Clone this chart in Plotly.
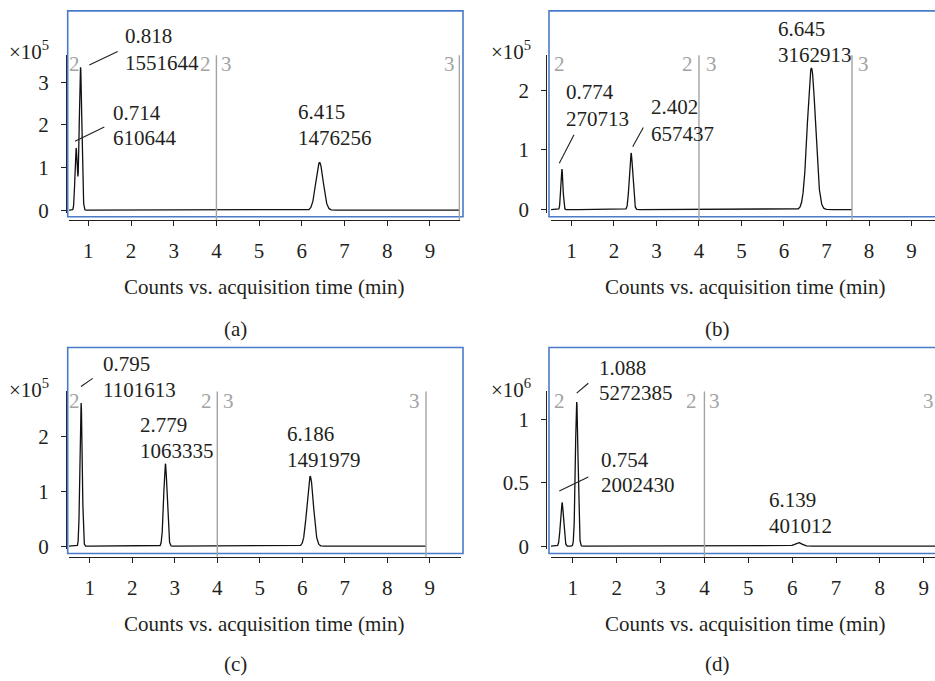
import numpy as np
import plotly.graph_objects as go

W, H = 935, 681

# ---------------- data ----------------
# panel (a)  heights in units of 1e5 counts
a_rt = [0.714, 0.818, 6.415]
a_area = ["610644", "1551644", "1476256"]
a_height = [1.45, 3.35, 1.12]
a_sigma = [0.026, 0.030, 0.085]
a_span = [0.55, 9.69]
a_cuts = [4.0, 9.69]

# panel (b)  heights in units of 1e5 counts
b_rt = [0.774, 2.402, 6.645]
b_area = ["270713", "657437", "3162913"]
b_height = [0.68, 0.95, 2.375]
b_sigma = [0.025, 0.040, 0.095]
b_span = [0.52, 7.60]
b_cuts = [4.0, 7.60]

# panel (c)  heights in units of 1e5 counts
c_rt = [0.795, 2.779, 6.186]
c_area = ["1101613", "1063335", "1491979"]
c_height = [2.61, 1.50, 1.27]
c_sigma = [0.027, 0.040, 0.075]
c_span = [0.51, 8.91]
c_cuts = [4.0, 8.91]

# panel (d)  heights in units of 1e6 counts
d_rt = [0.754, 1.088, 6.139]
d_area = ["2002430", "5272385", "401012"]
d_height = [0.345, 1.14, 0.029]
d_sigma = [0.035, 0.030, 0.080]
d_span = [0.50, 9.40]
d_cuts = [4.0]

x_ticks = [1, 2, 3, 4, 5, 6, 7, 8, 9]
a_yticks = [0, 1, 2, 3]
b_yticks = [0, 1, 2]
c_yticks = [0, 1, 2]
d_yticks = [0, 0.5, 1]
d_ytext = ["0", "0.5", "1"]
seg_labels = ["2", "2", "3", "3"]
panel_names = ["(a)", "(b)", "(c)", "(d)"]
exponents = ["×10<sup>5</sup>", "×10<sup>5</sup>", "×10<sup>5</sup>", "×10<sup>6</sup>"]
x_title = "Counts vs. acquisition time (min)"

# ---------------- helpers ----------------
def px(v):
    return v / W

def py(v):
    return 1 - v / H

def chromatogram(span, rts, heights, sigmas):
    x = np.linspace(span[0], span[1], 4000)
    y = np.zeros_like(x)
    for rt, h, s in zip(rts, heights, sigmas):
        y += h * np.exp(-((x - rt) ** 2) / (2 * s * s))
    return x, y

FONT = "Liberation Serif, Times New Roman, DejaVu Serif, serif"
INK = "#231f20"
GRAY = "#a3a3a3"
BLUE = "#4a7bc8"
FS = 21
DY = 3  # glyph-centre correction for annotations

panels = [
    dict(rt=a_rt, area=a_area, h=a_height, s=a_sigma, span=a_span, cuts=a_cuts,
         yt=a_yticks, ytt=[str(v) for v in a_yticks],
         xdom=(68.5, 460), xr=(0.536, 9.705), ydom=(216, 56), yr=(-0.062, 3.633),
         xline=223.3, yline=66, box=(67.7, 11, 463, 220),
         exp=(29, 48), title=(264.5, 288), name=(236, 331), segy=61.7,
         seg_x=[74, 205.7, 226.7, 449.3],
         lab=[(111, 111.7, 137.3), (123.3, 33.8, 61), (296, 111, 137.3)],
         lead=[((75, 143.3), (104.3, 129)), ((89.3, 66), (117.7, 52.3)), None]),
    dict(rt=b_rt, area=b_area, h=b_height, s=b_sigma, span=b_span, cuts=b_cuts,
         yt=b_yticks, ytt=[str(v) for v in b_yticks],
         xdom=(551, 935), xr=(0.518, 9.553), ydom=(216, 56), yr=(-0.0545, 2.590),
         xline=223.3, yline=546.3, box=(549, 11, 950, 220),
         exp=(511, 48), title=(745.8, 288), name=(717, 331), segy=61.7,
         seg_x=[559.3, 687.7, 711, 863.3],
         lab=[(564.3, 90.7, 117.3), (649, 106, 132.7), (776, 26, 52.7)],
         lead=[((559.3, 165.7), (574, 136.7)), ((632.7, 149), (643.3, 129.3)), None]),
    dict(rt=c_rt, area=c_area, h=c_height, s=c_sigma, span=c_span, cuts=c_cuts,
         yt=c_yticks, ytt=[str(v) for v in c_yticks],
         xdom=(69, 460.7), xr=(0.511, 9.727), ydom=(557, 397.3), yr=(-0.0485, 2.819),
         xline=565, yline=66, box=(67.7, 352.7, 463, 561.7),
         exp=(29, 391), title=(264.5, 630), name=(236, 671), segy=404,
         seg_x=[74, 206.7, 228.3, 414.3],
         lab=[(101, 366.7, 392.7), (138.3, 428.3, 454.3), (285, 437.7, 464)],
         lead=[((81, 392.3), (92.7, 384)), None, None]),
    dict(rt=d_rt, area=d_area, h=d_height, s=d_sigma, span=d_span, cuts=d_cuts,
         yt=d_yticks, ytt=d_ytext,
         xdom=(551, 935), xr=(0.502, 9.257), ydom=(557, 397.3), yr=(-0.021, 1.2237),
         xline=565, yline=546.3, box=(549, 352.7, 950, 561.7),
         exp=(511, 391), title=(745.8, 630), name=(717, 671), segy=404,
         seg_x=[559.3, 691.7, 714.3, 928.5],
         lab=[(599.3, 464, 489.3), (596.7, 370, 395.7), (766.7, 504.3, 530.7)],
         lead=[((559.3, 498.3), (588.3, 484)), ((576.7, 399), (588.3, 389)), None]),
]

fig = go.Figure()
layout = dict(
    width=W, height=H, margin=dict(l=0, r=0, t=0, b=0),
    paper_bgcolor="white", plot_bgcolor="rgba(0,0,0,0)",
    showlegend=False, font=dict(family=FONT, size=FS, color=INK),
)
shapes = []
annotations = []

def note(text, x, y, xanchor="center", color=INK):
    annotations.append(dict(text=text, xref="paper", yref="paper",
                            x=px(x), y=py(y + DY), showarrow=False,
                            xanchor=xanchor, yanchor="middle",
                            font=dict(family=FONT, size=FS, color=color)))

for i, p in enumerate(panels, start=1):
    xa = "x" if i == 1 else f"x{i}"
    ya = "y" if i == 1 else f"y{i}"
    xkey = "xaxis" if i == 1 else f"xaxis{i}"
    ykey = "yaxis" if i == 1 else f"yaxis{i}"

    x, y = chromatogram(p["span"], p["rt"], p["h"], p["s"])
    fig.add_trace(go.Scatter(x=x, y=y, xaxis=xa, yaxis=ya, mode="lines",
                             line=dict(color="#111111", width=1.3),
                             hoverinfo="skip"))

    layout[xkey] = dict(
        domain=[px(p["xdom"][0]), px(p["xdom"][1])], range=list(p["xr"]),
        anchor="free", position=py(p["xline"]),
        showline=True, linecolor=INK, linewidth=1.3,
        ticks="outside", ticklen=5, tickwidth=1.3, tickcolor=INK,
        tickvals=x_ticks, showgrid=False, zeroline=False,
        tickfont=dict(family=FONT, size=FS, color=INK), ticklabelstandoff=7,
        ticklabeloverflow="allow",
    )
    layout[ykey] = dict(
        domain=[py(p["ydom"][0]), py(p["ydom"][1])], range=list(p["yr"]),
        anchor="free", position=px(p["yline"]),
        showline=True, linecolor=INK, linewidth=1.3,
        ticks="outside", ticklen=5, tickwidth=1.3, tickcolor=INK,
        tickvals=p["yt"], ticktext=p["ytt"], showgrid=False, zeroline=False,
        tickfont=dict(family=FONT, size=FS, color=INK), ticklabelstandoff=8,
    )

    # blue selection box
    bx0, by0, bx1, by1 = p["box"]
    shapes.append(dict(type="rect", xref="paper", yref="paper",
                       x0=px(bx0), x1=px(bx1), y0=py(by1), y1=py(by0),
                       line=dict(color=BLUE, width=1.6), layer="above"))

    # grey segment separators
    for c in p["cuts"]:
        shapes.append(dict(type="line", xref=xa, yref="paper", x0=c, x1=c,
                           y0=py(p["xline"]), y1=py(p["ydom"][1]),
                           line=dict(color=GRAY, width=1.4), layer="above"))
    for lbl, sx in zip(seg_labels, p["seg_x"]):
        note(lbl, sx, p["segy"], color=GRAY)

    # peak labels
    for rt, ar, (lx, ly1, ly2), ld in zip(p["rt"], p["area"], p["lab"], p["lead"]):
        note(f"{rt:.3f}", lx, ly1, xanchor="left")
        note(ar, lx, ly2, xanchor="left")
        if ld is not None:
            (x0, y0), (x1, y1) = ld
            shapes.append(dict(type="line", xref="paper", yref="paper",
                               x0=px(x0), y0=py(y0), x1=px(x1), y1=py(y1),
                               line=dict(color=INK, width=1.1)))

    # exponent, axis title, panel name
    note(exponents[i - 1], p["exp"][0], p["exp"][1])
    note(x_title, p["title"][0], p["title"][1])
    note(panel_names[i - 1], p["name"][0], p["name"][1])

layout["shapes"] = shapes
layout["annotations"] = annotations
fig.update_layout(**layout)
fig.write_html("out.html", config={"displayModeBar": False},
               post_script="document.body.style.margin='0';")
